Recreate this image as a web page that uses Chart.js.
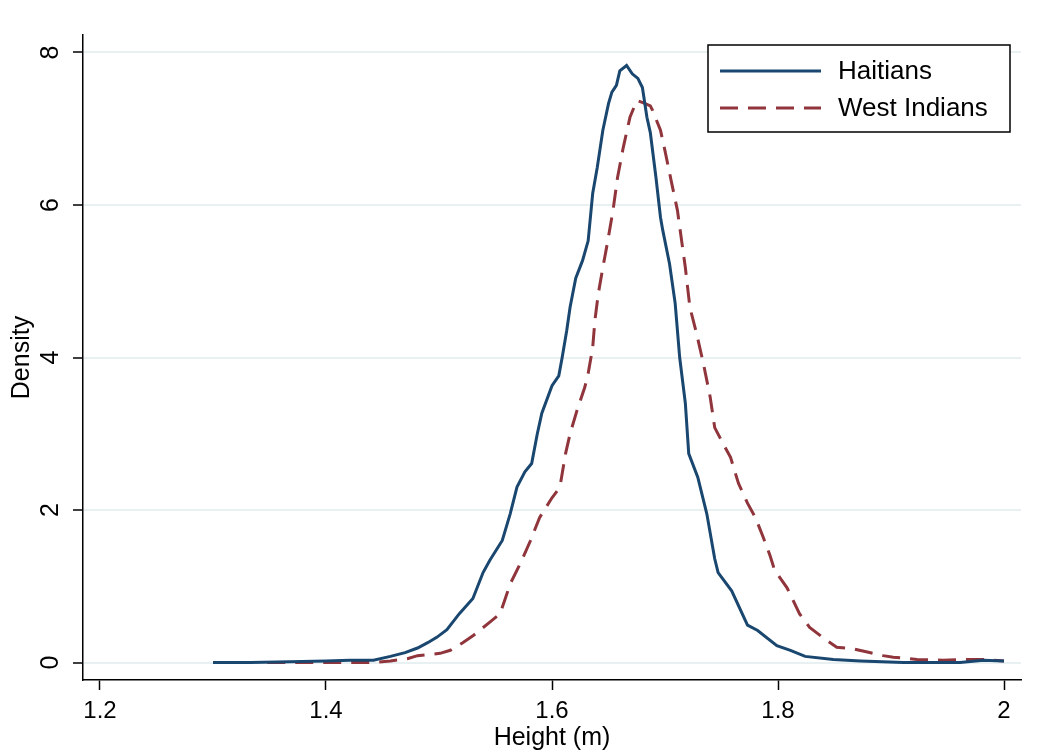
<!DOCTYPE html>
<html>
<head>
<meta charset="utf-8">
<script src="https://cdn.jsdelivr.net/npm/chart.js@4.4.1/dist/chart.umd.min.js"></script>
<style>
  body { margin: 0; background: #fff; }
  #wrap { width: 1038px; height: 755px; position: relative; }
</style>
</head>
<body>
<div id="wrap"><canvas id="heightChart"></canvas></div>
<script>
// kernel density of height
const haitianHeight = [1.300, 1.333, 1.368, 1.400, 1.421, 1.442, 1.457, 1.470, 1.481, 1.490, 1.498, 1.507, 1.518, 1.530, 1.539, 1.545, 1.556, 1.563, 1.569, 1.576, 1.582, 1.587, 1.591, 1.600, 1.606, 1.609, 1.613, 1.616, 1.621, 1.627, 1.632, 1.636, 1.640, 1.645, 1.650, 1.653, 1.657, 1.660, 1.666, 1.671, 1.676, 1.680, 1.684, 1.687, 1.692, 1.696, 1.698, 1.704, 1.709, 1.713, 1.718, 1.721, 1.729, 1.737, 1.744, 1.747, 1.759, 1.773, 1.782, 1.799, 1.811, 1.824, 1.849, 1.873, 1.911, 1.961, 1.982, 2.000];
const haitianDensity = [0.00, 0.00, 0.01, 0.02, 0.03, 0.03, 0.08, 0.13, 0.19, 0.26, 0.33, 0.43, 0.64, 0.84, 1.18, 1.34, 1.60, 1.95, 2.30, 2.50, 2.61, 3.00, 3.27, 3.63, 3.76, 4.00, 4.35, 4.66, 5.04, 5.27, 5.53, 6.15, 6.49, 6.98, 7.33, 7.48, 7.57, 7.76, 7.83, 7.72, 7.66, 7.54, 7.15, 6.95, 6.36, 5.84, 5.67, 5.23, 4.71, 4.00, 3.40, 2.74, 2.43, 1.95, 1.36, 1.18, 0.94, 0.49, 0.42, 0.22, 0.16, 0.08, 0.04, 0.02, 0.00, 0.00, 0.03, 0.02];

const westIndianHeight = [1.348, 1.397, 1.442, 1.457, 1.472, 1.481, 1.501, 1.510, 1.521, 1.530, 1.545, 1.554, 1.558, 1.563, 1.572, 1.581, 1.589, 1.600, 1.607, 1.612, 1.616, 1.622, 1.629, 1.632, 1.636, 1.638, 1.641, 1.645, 1.649, 1.654, 1.658, 1.663, 1.669, 1.675, 1.681, 1.687, 1.689, 1.696, 1.700, 1.706, 1.711, 1.715, 1.718, 1.722, 1.728, 1.734, 1.740, 1.744, 1.750, 1.758, 1.765, 1.773, 1.780, 1.787, 1.793, 1.797, 1.808, 1.819, 1.828, 1.843, 1.852, 1.866, 1.881, 1.893, 1.902, 1.923, 1.946, 1.964, 1.982, 2.000];
const westIndianDensity = [0.00, 0.00, 0.00, 0.02, 0.05, 0.09, 0.12, 0.16, 0.26, 0.35, 0.53, 0.64, 0.81, 1.03, 1.30, 1.60, 1.90, 2.16, 2.30, 2.74, 3.00, 3.30, 3.61, 3.79, 4.13, 4.49, 4.84, 5.18, 5.50, 5.93, 6.36, 6.75, 7.15, 7.37, 7.34, 7.30, 7.24, 6.98, 6.71, 6.28, 5.93, 5.50, 5.18, 4.66, 4.31, 3.92, 3.48, 3.08, 2.91, 2.69, 2.35, 2.09, 1.90, 1.64, 1.40, 1.21, 0.98, 0.64, 0.46, 0.29, 0.20, 0.18, 0.13, 0.09, 0.07, 0.04, 0.03, 0.04, 0.04, 0.02];

const seriesNames = ['Haitians', 'West Indians'];
const xTicks = [1.2, 1.4, 1.6, 1.8, 2];
const yTicks = [0, 2, 4, 6, 8];

const FONT = '"Liberation Sans", Arial, sans-serif';

function toPoints(xs, ys) {
    return xs.map((x, i) => ({ x: x, y: ys[i] }));
}

// Stata-style boxed legend inside the plot, top right
const boxLegend = {
    id: 'boxLegend',
    afterDraw(chart) {
        const c = chart.ctx;
        const left = 708, top = 45, w = 302, h = 87;
        c.save();
        c.fillStyle = '#fff';
        c.fillRect(left, top, w, h);
        c.strokeStyle = '#000';
        c.lineWidth = 1.5;
        c.strokeRect(left, top, w, h);
        chart.data.datasets.forEach((ds, i) => {
            const y = 71 + i * 37;
            c.beginPath();
            c.strokeStyle = ds.borderColor;
            c.lineWidth = ds.borderWidth;
            c.setLineDash(ds.borderDash || []);
            c.moveTo(720, y);
            c.lineTo(821, y);
            c.stroke();
            c.setLineDash([]);
            c.fillStyle = '#000';
            c.font = '26px ' + FONT;
            c.textBaseline = 'middle';
            c.fillText(ds.label, 838, y + 1);
        });
        c.restore();
    }
};

const ctx = document.getElementById('heightChart').getContext('2d');

const heightChart = new Chart(ctx, {
    type: 'line',
    data: {
        datasets: [{
            label: seriesNames[0],
            data: toPoints(haitianHeight, haitianDensity),
            borderColor: '#1a476f',
            borderWidth: 3,
            pointRadius: 0,
            tension: 0,
            fill: false
        }, {
            label: seriesNames[1],
            data: toPoints(westIndianHeight, westIndianDensity),
            borderColor: '#90353b',
            borderWidth: 3,
            borderDash: [18, 10],
            pointRadius: 0,
            tension: 0,
            fill: false
        }]
    },
    options: {
        responsive: true,
        maintainAspectRatio: false,
        animation: false,
        layout: { padding: { top: 35, right: 17, left: 0, bottom: 0 } },
        plugins: {
            legend: { display: false },
            tooltip: { enabled: false }
        },
        scales: {
            x: {
                type: 'linear',
                min: 1.18496,
                max: 2.01504,
                afterBuildTicks: (scale) => { scale.ticks = xTicks.map(v => ({ value: v })); },
                afterFit: (scale) => { scale.height = 75; },
                border: { display: true, color: '#000', width: 1.5 },
                grid: {
                    drawOnChartArea: false,
                    tickLength: 10,
                    tickColor: '#000',
                    tickWidth: 1.5
                },
                ticks: {
                    color: '#000',
                    padding: 7,
                    maxRotation: 0,
                    font: { family: FONT, size: 24 },
                    callback: (v) => String(v)
                },
                title: {
                    display: true,
                    text: 'Height (m)',
                    color: '#000',
                    font: { family: FONT, size: 25 },
                    padding: { top: 0, bottom: 2 }
                }
            },
            y: {
                type: 'linear',
                min: -0.2295,
                max: 8.2295,
                afterBuildTicks: (scale) => { scale.ticks = yTicks.map(v => ({ value: v })); },
                afterFit: (scale) => { scale.width = 83; },
                border: { display: true, color: '#000', width: 1.5 },
                grid: {
                    color: '#e8f0f2',
                    lineWidth: 2,
                    tickLength: 10,
                    tickColor: '#000',
                    tickWidth: 1.5
                },
                ticks: {
                    color: '#000',
                    minRotation: 90,
                    maxRotation: 90,
                    crossAlign: 'center',
                    padding: 15,
                    font: { family: FONT, size: 25 },
                    callback: (v) => String(v)
                },
                title: {
                    display: true,
                    text: 'Density',
                    color: '#000',
                    font: { family: FONT, size: 25 },
                    padding: { top: 7, bottom: 0 }
                }
            }
        }
    },
    plugins: [boxLegend]
});
</script>
</body>
</html>
